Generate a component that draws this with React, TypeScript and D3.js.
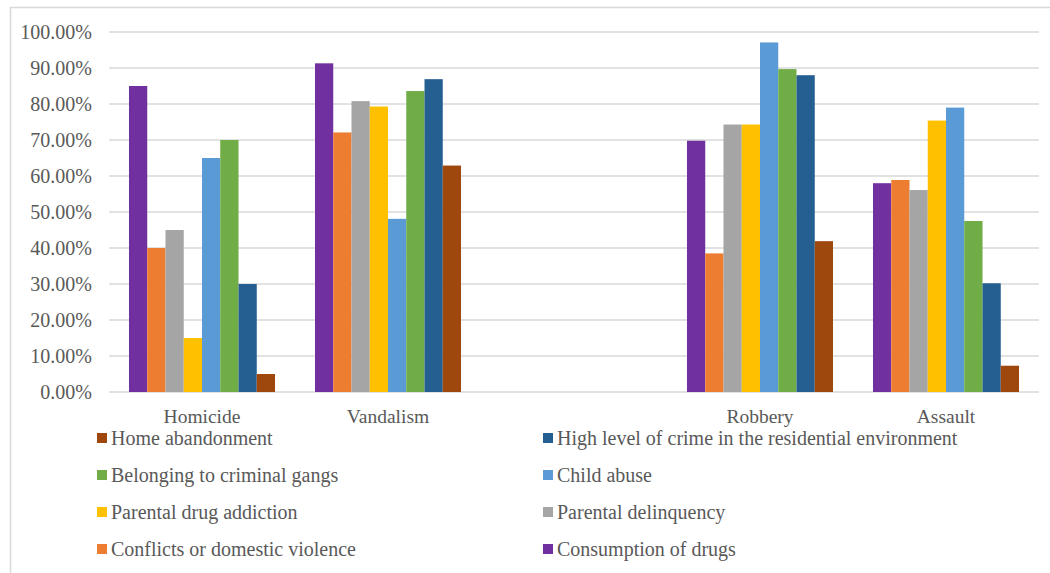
import React from "react";
import * as d3 from "d3";

const categories = ["Homicide", "Vandalism", "", "Robbery", "Assault"];
const seriesNames = [
  "Consumption of drugs",
  "Conflicts or domestic violence",
  "Parental delinquency",
  "Parental drug addiction",
  "Child abuse",
  "Belonging to criminal gangs",
  "High level of crime in the residential environment",
  "Home abandonment",
];
const seriesColors = ["#7030A0", "#ED7D31", "#A5A5A5", "#FFC000", "#5B9BD5", "#70AD47", "#255E91", "#9E480E"];
// values per series, aligned with categories (null = empty category)
const consumptionOfDrugs = [0.85, 0.913, null, 0.698, 0.58];
const conflictsViolence = [0.4, 0.721, null, 0.385, 0.589];
const parentalDelinquency = [0.45, 0.808, null, 0.743, 0.561];
const parentalDrugAddiction = [0.15, 0.793, null, 0.743, 0.754];
const childAbuse = [0.65, 0.481, null, 0.971, 0.79];
const criminalGangs = [0.7, 0.836, null, 0.897, 0.475];
const highCrime = [0.3, 0.869, null, 0.88, 0.302];
const homeAbandonment = [0.05, 0.629, null, 0.419, 0.073];
const seriesValues = [
  consumptionOfDrugs,
  conflictsViolence,
  parentalDelinquency,
  parentalDrugAddiction,
  childAbuse,
  criminalGangs,
  highCrime,
  homeAbandonment,
];
const yTicks = [0, 0.1, 0.2, 0.3, 0.4, 0.5, 0.6, 0.7, 0.8, 0.9, 1.0];
// legend order (reverse of series order), two columns row-major
const legendOrder = [7, 6, 5, 4, 3, 2, 1, 0];

const W = 1050;
const H = 573;
const plotLeft = 109;
const plotRight = 1039;
const plotTop = 32;
const plotBottom = 392;
const textColor = "#595959";
const font = "'Liberation Serif', 'Times New Roman', serif";

export default function App() {
  const x0 = d3.scaleBand<string>().domain(categories.map((c, i) => i + ":" + c)).range([plotLeft, plotRight]).paddingInner(0.215).paddingOuter(0.1075);
  const x1 = d3.scaleBand<number>().domain(d3.range(seriesNames.length)).range([0, x0.bandwidth()]);
  const y = d3.scaleLinear().domain([0, 1]).range([plotBottom, plotTop]);
  const keys = x0.domain();
  const fmt = (v: number) => (v * 100).toFixed(2) + "%";

  return (
    <div style={{ position: "absolute", left: 0, top: 0, width: W, height: H, background: "#fff" }}>
      <svg width={W} height={H} style={{ display: "block" }}>
        <rect x={0} y={0} width={W} height={H} fill="#fff" />
        {/* frame */}
        <line x1={10} x2={W} y1={7.5} y2={7.5} stroke="#D9D9D9" strokeWidth={1.5} />
        <line x1={10.5} x2={10.5} y1={7} y2={H} stroke="#D9D9D9" strokeWidth={1.5} />
        {/* gridlines */}
        {yTicks.map((t) => (
          <line key={t} x1={plotLeft} x2={plotRight} y1={y(t)} y2={y(t)} stroke="#D9D9D9" strokeWidth={1.5} />
        ))}
        {/* y tick labels */}
        {yTicks.map((t) => (
          <text key={"l" + t} x={92} y={y(t)} dy="0.35em" textAnchor="end" fontFamily={font} fontSize={20} fill={textColor}>
            {fmt(t)}
          </text>
        ))}
        {/* bars */}
        {keys.map((k, ci) =>
          seriesValues.map((vals, si) => {
            const v = vals[ci];
            if (v == null) return null;
            const bx = (x0(k) as number) + (x1(si) as number);
            return (
              <rect key={k + si} x={bx} y={y(v)} width={x1.bandwidth()} height={y(0) - y(v)} fill={seriesColors[si]} />
            );
          })
        )}
        {/* x labels */}
        {keys.map((k, ci) => (
          <text key={"x" + k} x={(x0(k) as number) + x0.bandwidth() / 2} y={423} textAnchor="middle" fontFamily={font} fontSize={19.5} fill={textColor}>
            {categories[ci]}
          </text>
        ))}
        {/* legend */}
        {legendOrder.map((si, i) => {
          const col = i % 2;
          const row = Math.floor(i / 2);
          const lx = col === 0 ? 97 : 543;
          const cy = 438 + row * 37;
          return (
            <g key={"lg" + si}>
              <rect x={lx} y={cy - 5} width={10} height={10} fill={seriesColors[si]} />
              <text x={lx + 14} y={cy} dy="0.35em" fontFamily={font} fontSize={20} fill={textColor}>
                {seriesNames[si]}
              </text>
            </g>
          );
        })}
      </svg>
    </div>
  );
}
